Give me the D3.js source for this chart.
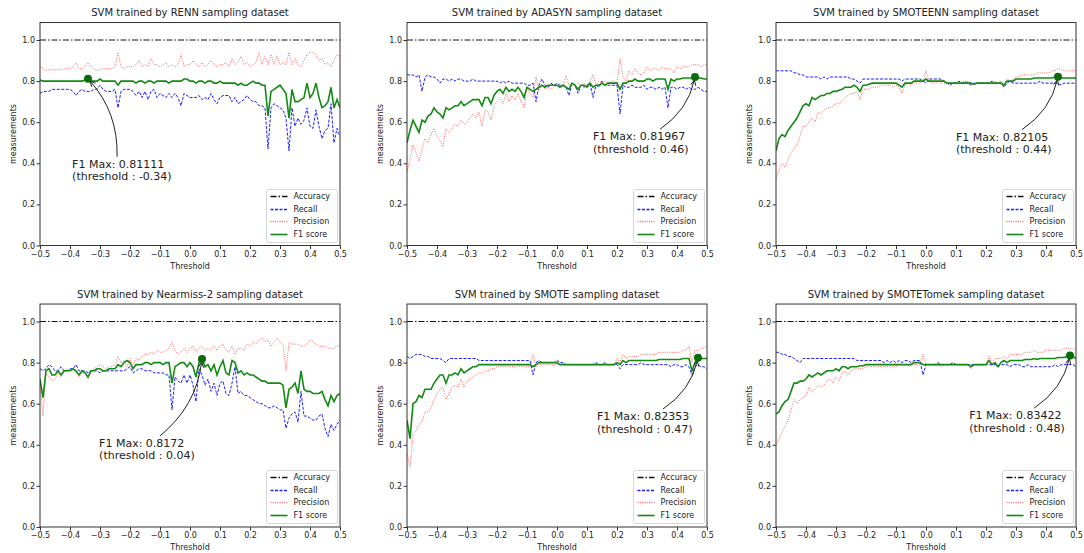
<!DOCTYPE html>
<html>
<head>
<meta charset="utf-8">
<script src="https://cdn.jsdelivr.net/npm/d3@7"></script>
<style>
  body { margin: 0; background: #fff; }
  svg text { font-family: "DejaVu Sans", sans-serif; fill: #222; }
</style>
</head>
<body>
<svg id="chart" width="1084" height="553"></svg>
<script>
// thresholds -0.50 .. 0.50, step 0.01
const thresholds = d3.range(-50, 51).map(i => i / 100);
const accuracyLevel = 1.0;
const xTicks = [-0.5, -0.4, -0.3, -0.2, -0.1, 0, 0.1, 0.2, 0.3, 0.4, 0.5];
const yTicks = [0, 0.2, 0.4, 0.6, 0.8, 1.0];
const legendNames = ['Accuracy', 'Recall', 'Precision', 'F1 score'];

const titles = [
  'SVM trained by RENN sampling dataset',
  'SVM trained by ADASYN sampling dataset',
  'SVM trained by SMOTEENN sampling dataset',
  'SVM trained by Nearmiss-2 sampling dataset',
  'SVM trained by SMOTE sampling dataset',
  'SVM trained by SMOTETomek sampling dataset'
];
const maxThresholds = [-0.34, 0.46, 0.44, 0.04, 0.47, 0.48];
const maxLabels = ['F1 Max: 0.81111', 'F1 Max: 0.81967', 'F1 Max: 0.82105', 'F1 Max: 0.8172', 'F1 Max: 0.82353', 'F1 Max: 0.83422'];
const thrLabels = ['(threshold : -0.34)', '(threshold : 0.46)', '(threshold : 0.44)', '(threshold : 0.04)', '(threshold : 0.47)', '(threshold : 0.48)'];

// ---- RENN
const rennRecall = [
  0.74,0.75,0.75,0.75,0.76,0.76,0.76,0.76,0.76,0.76,
  0.76,0.75,0.73,0.75,0.76,0.75,0.75,0.75,0.76,0.76,
  0.78,0.76,0.75,0.75,0.75,0.76,0.67,0.75,0.76,0.76,
  0.76,0.75,0.73,0.75,0.72,0.75,0.71,0.75,0.76,0.72,
  0.74,0.73,0.72,0.74,0.72,0.74,0.72,0.68,0.74,0.73,
  0.72,0.72,0.72,0.73,0.71,0.72,0.71,0.74,0.71,0.69,
  0.72,0.73,0.73,0.73,0.70,0.72,0.69,0.70,0.71,0.73,
  0.71,0.70,0.70,0.68,0.68,0.67,0.47,0.67,0.69,0.68,
  0.67,0.66,0.62,0.46,0.67,0.58,0.62,0.59,0.61,0.67,
  0.58,0.57,0.66,0.58,0.52,0.56,0.57,0.69,0.50,0.57,
  0.53];
const rennPrecision = [
  0.87,0.86,0.85,0.855,0.855,0.855,0.855,0.855,0.86,0.86,
  0.86,0.87,0.89,0.86,0.86,0.87,0.89,0.87,0.86,0.85,
  0.855,0.86,0.86,0.86,0.86,0.87,0.94,0.87,0.86,0.87,
  0.87,0.87,0.88,0.90,0.87,0.88,0.87,0.91,0.88,0.88,
  0.87,0.88,0.89,0.87,0.88,0.87,0.88,0.93,0.87,0.88,
  0.88,0.90,0.88,0.87,0.89,0.87,0.88,0.90,0.88,0.87,
  0.88,0.88,0.89,0.87,0.91,0.88,0.89,0.92,0.88,0.89,
  0.87,0.88,0.89,0.94,0.88,0.92,0.88,0.93,0.88,0.92,
  0.88,0.89,0.88,0.94,0.88,0.91,0.88,0.87,0.90,0.93,
  0.94,0.94,0.93,0.90,0.91,0.88,0.89,0.87,0.90,0.93,
  0.92];
const rennF1 = [
  0.805,0.80,0.80,0.80,0.80,0.80,0.80,0.80,0.80,0.80,
  0.80,0.80,0.80,0.80,0.80,0.805,0.811,0.80,0.80,0.80,
  0.81,0.80,0.80,0.80,0.80,0.80,0.78,0.80,0.80,0.80,
  0.80,0.80,0.79,0.80,0.80,0.79,0.80,0.80,0.79,0.80,
  0.80,0.80,0.80,0.79,0.80,0.80,0.80,0.80,0.81,0.81,
  0.80,0.80,0.79,0.80,0.80,0.79,0.80,0.80,0.79,0.79,
  0.80,0.79,0.79,0.79,0.79,0.79,0.78,0.79,0.78,0.78,
  0.79,0.80,0.79,0.79,0.78,0.78,0.63,0.75,0.76,0.77,
  0.78,0.76,0.74,0.62,0.76,0.70,0.70,0.71,0.72,0.79,
  0.72,0.74,0.79,0.72,0.67,0.68,0.70,0.77,0.67,0.71,
  0.67];

// ---- ADASYN
const adasynRecall = [
  0.83,0.83,0.83,0.82,0.83,0.75,0.82,0.83,0.82,0.82,
  0.81,0.79,0.81,0.81,0.80,0.81,0.80,0.81,0.81,0.80,
  0.80,0.80,0.81,0.80,0.80,0.80,0.80,0.80,0.80,0.80,
  0.80,0.79,0.80,0.79,0.80,0.79,0.79,0.79,0.79,0.79,
  0.78,0.78,0.79,0.70,0.78,0.81,0.78,0.77,0.79,0.78,
  0.79,0.78,0.78,0.77,0.73,0.79,0.78,0.74,0.78,0.77,
  0.78,0.79,0.72,0.78,0.77,0.80,0.78,0.78,0.78,0.78,
  0.78,0.64,0.78,0.77,0.77,0.78,0.77,0.77,0.77,0.78,
  0.76,0.77,0.77,0.76,0.77,0.76,0.77,0.67,0.77,0.77,
  0.76,0.77,0.77,0.76,0.77,0.76,0.76,0.77,0.76,0.75,
  0.75];
const adasynPrecision = [
  0.36,0.42,0.49,0.45,0.41,0.47,0.52,0.50,0.54,0.57,
  0.53,0.51,0.48,0.57,0.55,0.57,0.59,0.58,0.61,0.59,
  0.60,0.62,0.64,0.62,0.65,0.58,0.66,0.65,0.61,0.68,
  0.70,0.72,0.69,0.74,0.70,0.73,0.71,0.74,0.70,0.67,
  0.77,0.74,0.72,0.82,0.75,0.78,0.76,0.77,0.76,0.77,
  0.78,0.78,0.77,0.83,0.78,0.79,0.78,0.79,0.78,0.79,
  0.78,0.80,0.83,0.78,0.80,0.79,0.80,0.79,0.80,0.80,
  0.79,0.91,0.82,0.80,0.85,0.83,0.86,0.84,0.83,0.84,
  0.87,0.85,0.86,0.86,0.85,0.87,0.86,0.86,0.86,0.84,
  0.87,0.86,0.87,0.87,0.87,0.88,0.88,0.88,0.87,0.88,
  0.88];
const adasynF1 = [
  0.50,0.56,0.61,0.58,0.55,0.61,0.60,0.63,0.64,0.67,
  0.65,0.64,0.62,0.67,0.66,0.67,0.68,0.68,0.70,0.68,
  0.69,0.70,0.71,0.71,0.71,0.68,0.72,0.72,0.69,0.73,
  0.75,0.76,0.74,0.77,0.75,0.76,0.75,0.77,0.75,0.72,
  0.77,0.76,0.75,0.76,0.77,0.78,0.77,0.78,0.78,0.78,
  0.78,0.77,0.78,0.77,0.76,0.79,0.78,0.76,0.78,0.78,
  0.77,0.79,0.77,0.78,0.78,0.79,0.78,0.79,0.79,0.79,
  0.79,0.76,0.79,0.79,0.80,0.80,0.81,0.80,0.80,0.80,
  0.81,0.81,0.80,0.81,0.81,0.81,0.81,0.76,0.81,0.80,
  0.81,0.81,0.815,0.815,0.815,0.815,0.8197,0.815,0.815,0.81,
  0.81];

// ---- SMOTEENN
const smoteennRecall = [
  0.85,0.85,0.85,0.85,0.85,0.85,0.84,0.84,0.83,0.83,
  0.82,0.82,0.82,0.82,0.82,0.81,0.82,0.81,0.82,0.82,
  0.82,0.82,0.82,0.82,0.82,0.81,0.81,0.80,0.79,0.81,
  0.81,0.81,0.81,0.81,0.81,0.81,0.81,0.81,0.81,0.81,
  0.81,0.81,0.80,0.81,0.81,0.81,0.81,0.81,0.81,0.80,
  0.79,0.81,0.81,0.81,0.81,0.81,0.80,0.79,0.78,0.79,
  0.79,0.80,0.79,0.80,0.79,0.78,0.79,0.79,0.79,0.79,
  0.79,0.79,0.80,0.79,0.79,0.79,0.77,0.79,0.80,0.79,
  0.79,0.79,0.79,0.79,0.79,0.79,0.79,0.79,0.80,0.79,
  0.79,0.79,0.79,0.79,0.79,0.78,0.79,0.79,0.79,0.79,
  0.79];
const smoteennPrecision = [
  0.32,0.37,0.40,0.38,0.42,0.45,0.47,0.49,0.53,0.58,
  0.58,0.60,0.62,0.60,0.65,0.64,0.66,0.67,0.67,0.68,
  0.69,0.69,0.70,0.72,0.73,0.74,0.74,0.75,0.71,0.76,
  0.76,0.76,0.77,0.77,0.77,0.78,0.78,0.78,0.78,0.77,
  0.78,0.77,0.74,0.78,0.79,0.78,0.79,0.79,0.79,0.80,
  0.85,0.80,0.79,0.79,0.80,0.79,0.79,0.79,0.79,0.79,
  0.79,0.79,0.79,0.79,0.80,0.79,0.78,0.79,0.79,0.79,
  0.79,0.79,0.79,0.80,0.79,0.80,0.79,0.81,0.80,0.81,
  0.82,0.82,0.83,0.83,0.83,0.83,0.83,0.84,0.84,0.84,
  0.84,0.84,0.85,0.85,0.86,0.86,0.85,0.85,0.85,0.85,
  0.85];
const smoteennF1 = [
  0.46,0.52,0.54,0.53,0.56,0.58,0.60,0.62,0.65,0.68,
  0.69,0.68,0.72,0.71,0.72,0.73,0.73,0.74,0.74,0.75,
  0.75,0.755,0.76,0.77,0.77,0.77,0.78,0.77,0.75,0.78,
  0.78,0.785,0.79,0.79,0.79,0.79,0.79,0.79,0.79,0.79,
  0.79,0.78,0.77,0.79,0.79,0.79,0.80,0.80,0.80,0.80,
  0.81,0.80,0.80,0.80,0.80,0.80,0.80,0.79,0.79,0.79,
  0.79,0.79,0.79,0.79,0.79,0.79,0.785,0.79,0.79,0.79,
  0.79,0.79,0.79,0.79,0.79,0.79,0.78,0.80,0.80,0.80,
  0.81,0.81,0.81,0.81,0.81,0.81,0.815,0.815,0.815,0.815,
  0.815,0.815,0.815,0.82,0.821,0.815,0.815,0.815,0.815,0.815,
  0.815];

// ---- Nearmiss-2
const nearmissRecall = [
  0.77,0.76,0.77,0.79,0.78,0.76,0.76,0.78,0.76,0.76,
  0.77,0.77,0.79,0.76,0.76,0.76,0.75,0.76,0.76,0.76,
  0.75,0.76,0.76,0.76,0.76,0.76,0.76,0.76,0.76,0.77,
  0.78,0.75,0.76,0.77,0.77,0.76,0.76,0.76,0.75,0.75,
  0.75,0.75,0.74,0.74,0.57,0.73,0.71,0.70,0.74,0.70,
  0.74,0.69,0.61,0.77,0.74,0.69,0.72,0.66,0.70,0.64,
  0.70,0.71,0.65,0.64,0.70,0.78,0.65,0.66,0.64,0.64,
  0.63,0.62,0.61,0.60,0.60,0.59,0.58,0.58,0.59,0.58,
  0.57,0.57,0.48,0.53,0.55,0.56,0.51,0.66,0.54,0.54,
  0.53,0.52,0.52,0.54,0.55,0.48,0.44,0.50,0.47,0.50,
  0.52];
const nearmissPrecision = [
  0.70,0.54,0.75,0.73,0.71,0.72,0.75,0.73,0.75,0.77,
  0.76,0.77,0.75,0.73,0.75,0.75,0.72,0.76,0.77,0.78,
  0.79,0.78,0.77,0.78,0.78,0.79,0.83,0.80,0.81,0.78,
  0.82,0.79,0.82,0.81,0.83,0.84,0.84,0.85,0.84,0.86,
  0.85,0.85,0.86,0.87,0.90,0.86,0.84,0.85,0.87,0.85,
  0.87,0.88,0.85,0.87,0.88,0.86,0.87,0.86,0.88,0.86,
  0.88,0.89,0.86,0.85,0.88,0.84,0.87,0.87,0.86,0.89,
  0.88,0.90,0.89,0.91,0.92,0.90,0.91,0.88,0.90,0.92,
  0.90,0.89,0.76,0.90,0.89,0.89,0.89,0.88,0.88,0.89,
  0.91,0.90,0.89,0.88,0.88,0.88,0.87,0.87,0.87,0.88,
  0.88];
const nearmissF1 = [
  0.72,0.63,0.76,0.77,0.74,0.74,0.76,0.74,0.76,0.76,
  0.76,0.77,0.76,0.74,0.76,0.75,0.73,0.76,0.76,0.77,
  0.77,0.76,0.76,0.77,0.77,0.77,0.79,0.78,0.80,0.81,
  0.80,0.77,0.79,0.79,0.79,0.80,0.80,0.79,0.80,0.80,
  0.80,0.79,0.80,0.80,0.70,0.78,0.79,0.80,0.80,0.78,
  0.80,0.78,0.73,0.80,0.8172,0.78,0.79,0.76,0.79,0.74,
  0.78,0.81,0.75,0.74,0.81,0.80,0.75,0.76,0.74,0.75,
  0.74,0.74,0.73,0.72,0.71,0.71,0.70,0.70,0.70,0.70,
  0.70,0.69,0.58,0.67,0.68,0.70,0.65,0.76,0.67,0.66,
  0.66,0.65,0.65,0.65,0.66,0.62,0.59,0.64,0.61,0.64,
  0.65];

// ---- SMOTE
const smoteRecall = [
  0.83,0.82,0.83,0.84,0.84,0.84,0.83,0.83,0.82,0.82,
  0.82,0.82,0.81,0.80,0.82,0.82,0.82,0.82,0.82,0.82,
  0.82,0.82,0.82,0.82,0.81,0.81,0.81,0.81,0.81,0.81,
  0.81,0.81,0.81,0.81,0.81,0.81,0.81,0.81,0.81,0.81,
  0.81,0.81,0.74,0.80,0.81,0.80,0.80,0.80,0.80,0.80,
  0.81,0.80,0.80,0.79,0.79,0.79,0.79,0.79,0.79,0.79,
  0.79,0.79,0.79,0.80,0.79,0.79,0.80,0.79,0.79,0.79,
  0.79,0.77,0.79,0.79,0.79,0.79,0.79,0.79,0.80,0.79,
  0.79,0.79,0.79,0.79,0.79,0.79,0.79,0.79,0.78,0.79,
  0.79,0.78,0.78,0.79,0.78,0.74,0.78,0.79,0.78,0.78,
  0.77];
const smotePrecision = [
  0.36,0.29,0.45,0.47,0.50,0.51,0.56,0.56,0.58,0.62,
  0.65,0.67,0.68,0.62,0.65,0.68,0.69,0.68,0.72,0.68,
  0.71,0.72,0.73,0.74,0.75,0.75,0.76,0.76,0.77,0.77,
  0.78,0.78,0.78,0.78,0.78,0.78,0.78,0.78,0.78,0.78,
  0.78,0.78,0.84,0.78,0.79,0.79,0.79,0.79,0.79,0.79,
  0.79,0.79,0.79,0.79,0.79,0.79,0.79,0.79,0.79,0.79,
  0.79,0.79,0.79,0.79,0.79,0.79,0.79,0.79,0.79,0.79,
  0.82,0.80,0.84,0.82,0.83,0.83,0.83,0.83,0.84,0.84,
  0.84,0.84,0.84,0.84,0.85,0.85,0.85,0.85,0.85,0.85,
  0.85,0.85,0.86,0.86,0.88,0.80,0.86,0.86,0.87,0.87,
  0.88];
const smoteF1 = [
  0.52,0.43,0.60,0.61,0.64,0.63,0.67,0.67,0.67,0.70,
  0.72,0.74,0.74,0.70,0.74,0.74,0.75,0.74,0.77,0.75,
  0.76,0.77,0.78,0.78,0.79,0.79,0.79,0.79,0.79,0.79,
  0.79,0.79,0.79,0.79,0.79,0.79,0.79,0.79,0.79,0.79,
  0.79,0.79,0.78,0.79,0.80,0.80,0.80,0.80,0.80,0.80,
  0.80,0.79,0.79,0.79,0.79,0.79,0.79,0.79,0.79,0.79,
  0.79,0.79,0.79,0.79,0.79,0.79,0.79,0.79,0.79,0.79,
  0.80,0.79,0.81,0.80,0.81,0.81,0.81,0.81,0.81,0.81,
  0.81,0.81,0.81,0.81,0.815,0.815,0.815,0.815,0.815,0.815,
  0.815,0.815,0.82,0.82,0.82,0.76,0.80,0.8235,0.82,0.82,
  0.82];

// ---- SMOTETomek
const tomekRecall = [
  0.85,0.85,0.84,0.84,0.83,0.83,0.82,0.81,0.80,0.82,
  0.82,0.82,0.82,0.82,0.82,0.82,0.82,0.82,0.82,0.82,
  0.82,0.82,0.82,0.82,0.82,0.82,0.82,0.81,0.81,0.81,
  0.81,0.81,0.81,0.81,0.81,0.81,0.80,0.81,0.80,0.81,
  0.80,0.81,0.80,0.81,0.81,0.80,0.81,0.81,0.81,0.74,
  0.79,0.79,0.79,0.79,0.80,0.79,0.79,0.79,0.79,0.80,
  0.79,0.79,0.79,0.79,0.79,0.79,0.79,0.79,0.79,0.79,
  0.79,0.79,0.79,0.79,0.78,0.79,0.79,0.79,0.78,0.79,
  0.79,0.79,0.78,0.78,0.79,0.78,0.78,0.78,0.78,0.78,
  0.78,0.78,0.78,0.79,0.78,0.79,0.79,0.79,0.79,0.79,
  0.78];
const tomekPrecision = [
  0.40,0.43,0.46,0.49,0.52,0.57,0.62,0.60,0.62,0.63,
  0.64,0.68,0.66,0.67,0.69,0.68,0.69,0.71,0.72,0.70,
  0.73,0.71,0.75,0.76,0.74,0.76,0.77,0.77,0.77,0.77,
  0.78,0.78,0.78,0.78,0.78,0.78,0.78,0.78,0.78,0.78,
  0.78,0.79,0.79,0.79,0.79,0.79,0.79,0.79,0.79,0.84,
  0.79,0.79,0.79,0.79,0.79,0.78,0.79,0.79,0.79,0.79,
  0.79,0.79,0.79,0.79,0.79,0.77,0.79,0.79,0.79,0.79,
  0.79,0.83,0.80,0.82,0.82,0.82,0.83,0.82,0.84,0.84,
  0.84,0.84,0.84,0.85,0.85,0.85,0.86,0.85,0.85,0.85,
  0.86,0.86,0.86,0.86,0.86,0.86,0.87,0.87,0.87,0.87,
  0.86];
const tomekF1 = [
  0.55,0.56,0.59,0.61,0.62,0.66,0.70,0.70,0.71,0.71,
  0.72,0.74,0.73,0.74,0.75,0.74,0.75,0.76,0.76,0.76,
  0.77,0.76,0.78,0.78,0.77,0.78,0.78,0.78,0.785,0.785,
  0.79,0.79,0.79,0.79,0.79,0.79,0.79,0.79,0.79,0.79,
  0.79,0.79,0.79,0.79,0.79,0.79,0.80,0.80,0.80,0.79,
  0.79,0.79,0.79,0.79,0.79,0.79,0.79,0.79,0.79,0.79,
  0.79,0.79,0.79,0.79,0.79,0.78,0.79,0.79,0.79,0.79,
  0.79,0.81,0.79,0.80,0.78,0.80,0.81,0.80,0.81,0.81,
  0.81,0.81,0.81,0.815,0.815,0.815,0.82,0.815,0.82,0.82,
  0.82,0.82,0.82,0.82,0.825,0.825,0.825,0.83,0.834,0.83,
  0.82];

const recalls = [rennRecall, adasynRecall, smoteennRecall, nearmissRecall, smoteRecall, tomekRecall];
const precisions = [rennPrecision, adasynPrecision, smoteennPrecision, nearmissPrecision, smotePrecision, tomekPrecision];
const f1s = [rennF1, adasynF1, smoteennF1, nearmissF1, smoteF1, tomekF1];

// layout (pixels) – annotation text position in data units, and arrow start offset
const textPos = [[-0.393, 0.378], [0.12, 0.512], [0.10, 0.51], [-0.303, 0.39], [0.133, 0.52], [0.144, 0.525]];
const arrowDx = [45, 67, 66, 61, 66, 65];
const colLeft = [40, 407, 776];
const rowBottom = [245.5, 527];
const plotW = 300, unitH = 205.5, yMax = 1.085;

const styles = {
  accuracy: { color: '#111', width: 1, dash: '6,2,1.5,2', opacity: 1 },
  recall: { color: '#1f1fff', width: 1, dash: '3,1.5', opacity: 1 },
  precision: { color: '#ff4d4d', width: 1, dash: '1,1.3', opacity: 0.85 },
  f1: { color: '#138a13', width: 1.6, dash: null, opacity: 1 }
};

const svg = d3.select('#chart');
const fmt = d3.format('.1f');

titles.forEach((title, i) => {
  const left = colLeft[i % 3], bottom = rowBottom[Math.floor(i / 3)];
  const top = bottom - yMax * unitH;
  const x = d3.scaleLinear().domain([-0.5, 0.5]).range([left, left + plotW]);
  const y = d3.scaleLinear().domain([0, yMax]).range([bottom, top]);
  const g = svg.append('g');

  g.append('clipPath').attr('id', 'clip' + i)
    .append('rect').attr('x', left).attr('y', top).attr('width', plotW).attr('height', bottom - top);

  const lines = g.append('g').attr('clip-path', `url(#clip${i})`);
  const line = d3.line().x((d, k) => x(thresholds[k])).y(d => y(d));
  const series = [
    [thresholds.map(() => accuracyLevel), styles.accuracy],
    [recalls[i], styles.recall],
    [precisions[i], styles.precision],
    [f1s[i], styles.f1]
  ];
  series.forEach(([vals, st]) => {
    lines.append('path').datum(vals)
      .attr('d', line)
      .attr('fill', 'none')
      .attr('stroke', st.color)
      .attr('stroke-width', st.width)
      .attr('stroke-opacity', st.opacity)
      .attr('stroke-dasharray', st.dash);
  });

  // axes
  const xa = g.append('g').attr('transform', `translate(0,${bottom})`)
    .call(d3.axisBottom(x).tickValues(xTicks).tickFormat(fmt).tickSize(3.5).tickPadding(2));
  const ya = g.append('g').attr('transform', `translate(${left},0)`)
    .call(d3.axisLeft(y).tickValues(yTicks).tickFormat(fmt).tickSize(3.5).tickPadding(1.5));
  [xa, ya].forEach(a => {
    a.select('.domain').remove();
    a.selectAll('line').attr('stroke', '#333');
    a.selectAll('text').attr('font-size', 8).attr('font-family', '"DejaVu Sans", sans-serif').attr('fill', '#222');
  });

  g.append('rect').attr('x', left).attr('y', top).attr('width', plotW).attr('height', bottom - top)
    .attr('fill', 'none').attr('stroke', '#333').attr('stroke-width', 1);

  g.append('text').attr('x', left + plotW / 2).attr('y', top - 10)
    .attr('text-anchor', 'middle').attr('dominant-baseline', 'central')
    .attr('font-size', 10).text(title);
  g.append('text').attr('x', left + plotW / 2).attr('y', bottom + 20.5)
    .attr('text-anchor', 'middle').attr('dominant-baseline', 'central')
    .attr('font-size', 8).text('Threshold');
  g.append('text')
    .attr('transform', `translate(${left - 27},${(top + bottom) / 2}) rotate(-90)`)
    .attr('text-anchor', 'middle').attr('dominant-baseline', 'central')
    .attr('font-size', 8).text('measurements');

  // legend
  const lw = 71, lh = 53;
  const lx = Math.round(left + plotW - 3 - lw) + 0.5, ly = Math.round(bottom - 4 - lh) + 0.5;
  const lg = g.append('g').attr('transform', `translate(${lx},${ly})`);
  lg.append('rect').attr('width', lw).attr('height', lh).attr('rx', 2)
    .attr('fill', '#fff').attr('fill-opacity', 0.85).attr('stroke', '#ccc').attr('stroke-width', 0.8);
  const legStyles = [styles.accuracy, styles.recall, styles.precision, styles.f1];
  legendNames.forEach((name, k) => {
    const yy = Math.round(7 + k * 12.6);
    const st = legStyles[k];
    lg.append('line').attr('x1', 4).attr('x2', 21).attr('y1', yy).attr('y2', yy)
      .attr('stroke', st.color).attr('stroke-width', Math.max(st.width, 1.6))
      .attr('stroke-opacity', st.opacity).attr('stroke-dasharray', st.dash);
    lg.append('text').attr('x', 27).attr('y', yy).attr('dominant-baseline', 'central')
      .attr('font-size', 8).text(name);
  });

  // annotation
  const k = thresholds.findIndex(t => Math.abs(t - maxThresholds[i]) < 1e-9);
  const ex = x(maxThresholds[i]), ey = y(f1s[i][k]);
  const tx = x(textPos[i][0]), ty = y(textPos[i][1]);
  const sx = tx + arrowDx[i], sy = ty - 11;
  const dx = ex - sx, dy = ey - sy;
  const cx = (sx + ex) / 2 - 0.2 * dy, cy = (sy + ey) / 2 + 0.2 * dx;
  let ux = ex - cx, uy = ey - cy;
  const ul = Math.hypot(ux, uy); ux /= ul; uy /= ul;
  const fx = ex - ux * 3, fy = ey - uy * 3;
  g.append('path').attr('d', `M${sx},${sy}Q${cx},${cy} ${fx},${fy}`)
    .attr('fill', 'none').attr('stroke', '#222').attr('stroke-width', 1);
  const ang = Math.atan2(uy, ux), hl = 6, ha = 0.45;
  g.append('path')
    .attr('d', `M${fx - hl * Math.cos(ang - ha)},${fy - hl * Math.sin(ang - ha)}L${fx},${fy}L${fx - hl * Math.cos(ang + ha)},${fy - hl * Math.sin(ang + ha)}`)
    .attr('fill', 'none').attr('stroke', '#222').attr('stroke-width', 1);
  g.append('circle').attr('cx', ex).attr('cy', ey).attr('r', 4).attr('fill', '#0b6b0b');

  const at = g.append('text').attr('x', tx).attr('y', ty).attr('font-size', 11);
  at.append('tspan').attr('x', tx).text(maxLabels[i]);
  at.append('tspan').attr('x', tx).attr('dy', 12.5).text(thrLabels[i]);
});
</script>
</body>
</html>
